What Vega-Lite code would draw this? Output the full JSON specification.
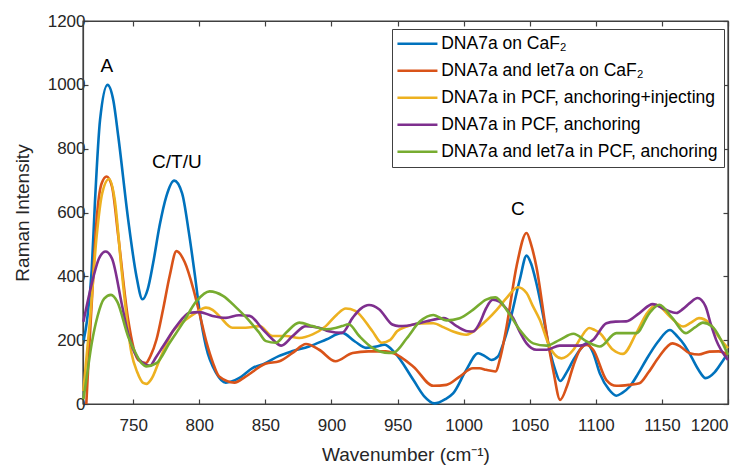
{
  "$schema": "https://vega.github.io/schema/vega-lite/v6.json",
  "width": 645,
  "height": 383,
  "autosize": {"type": "none"},
  "padding": {"left": 83, "top": 21, "right": 23, "bottom": 62},
  "background": "white",
  "config": {
    "font": "Liberation Sans",
    "view": {"stroke": null},
    "axis": {
      "domain": true,
      "domainColor": "#404040",
      "domainWidth": 1.2,
      "ticks": true,
      "tickColor": "#404040",
      "tickWidth": 1.2,
      "labelColor": "#262626",
      "titleColor": "#262626",
      "labelFont": "Liberation Sans",
      "titleFont": "Liberation Sans",
      "labelFontSize": 17,
      "titleFontSize": 19,
      "titleFontWeight": "normal",
      "grid": false,
      "tickSize": -5,
      "zindex": 1,
      "format": "d"
    },
    "legend": {
      "labelFont": "Liberation Sans",
      "labelFontSize": 17.5,
      "labelColor": "#000000"
    }
  },
  "datasets": {
    "spectra": [
      {"wavenumber": 712.5, "intensity": 200, "sample": "DNA7a on CaF₂"},
      {"wavenumber": 715, "intensity": 260, "sample": "DNA7a on CaF₂"},
      {"wavenumber": 718.6, "intensity": 420, "sample": "DNA7a on CaF₂"},
      {"wavenumber": 721, "intensity": 629, "sample": "DNA7a on CaF₂"},
      {"wavenumber": 724.9, "intensity": 890, "sample": "DNA7a on CaF₂"},
      {"wavenumber": 730.6, "intensity": 1000, "sample": "DNA7a on CaF₂"},
      {"wavenumber": 735, "intensity": 950, "sample": "DNA7a on CaF₂"},
      {"wavenumber": 738.7, "intensity": 838, "sample": "DNA7a on CaF₂"},
      {"wavenumber": 746.2, "intensity": 577, "sample": "DNA7a on CaF₂"},
      {"wavenumber": 752.5, "intensity": 399, "sample": "DNA7a on CaF₂"},
      {"wavenumber": 757, "intensity": 328, "sample": "DNA7a on CaF₂"},
      {"wavenumber": 761, "intensity": 360, "sample": "DNA7a on CaF₂"},
      {"wavenumber": 765, "intensity": 440, "sample": "DNA7a on CaF₂"},
      {"wavenumber": 770, "intensity": 560, "sample": "DNA7a on CaF₂"},
      {"wavenumber": 775, "intensity": 650, "sample": "DNA7a on CaF₂"},
      {"wavenumber": 781, "intensity": 700, "sample": "DNA7a on CaF₂"},
      {"wavenumber": 787, "intensity": 660, "sample": "DNA7a on CaF₂"},
      {"wavenumber": 792, "intensity": 540, "sample": "DNA7a on CaF₂"},
      {"wavenumber": 796.7, "intensity": 402, "sample": "DNA7a on CaF₂"},
      {"wavenumber": 800, "intensity": 297, "sample": "DNA7a on CaF₂"},
      {"wavenumber": 805, "intensity": 181, "sample": "DNA7a on CaF₂"},
      {"wavenumber": 812.8, "intensity": 97, "sample": "DNA7a on CaF₂"},
      {"wavenumber": 820, "intensity": 67, "sample": "DNA7a on CaF₂"},
      {"wavenumber": 830, "intensity": 81, "sample": "DNA7a on CaF₂"},
      {"wavenumber": 840.5, "intensity": 113, "sample": "DNA7a on CaF₂"},
      {"wavenumber": 850, "intensity": 128, "sample": "DNA7a on CaF₂"},
      {"wavenumber": 860, "intensity": 150, "sample": "DNA7a on CaF₂"},
      {"wavenumber": 870, "intensity": 165, "sample": "DNA7a on CaF₂"},
      {"wavenumber": 883, "intensity": 180, "sample": "DNA7a on CaF₂"},
      {"wavenumber": 896, "intensity": 202, "sample": "DNA7a on CaF₂"},
      {"wavenumber": 908, "intensity": 223, "sample": "DNA7a on CaF₂"},
      {"wavenumber": 918, "intensity": 195, "sample": "DNA7a on CaF₂"},
      {"wavenumber": 926, "intensity": 176, "sample": "DNA7a on CaF₂"},
      {"wavenumber": 934, "intensity": 180, "sample": "DNA7a on CaF₂"},
      {"wavenumber": 940, "intensity": 186, "sample": "DNA7a on CaF₂"},
      {"wavenumber": 948, "intensity": 160, "sample": "DNA7a on CaF₂"},
      {"wavenumber": 962, "intensity": 75, "sample": "DNA7a on CaF₂"},
      {"wavenumber": 970, "intensity": 25, "sample": "DNA7a on CaF₂"},
      {"wavenumber": 978, "intensity": 2, "sample": "DNA7a on CaF₂"},
      {"wavenumber": 986, "intensity": 15, "sample": "DNA7a on CaF₂"},
      {"wavenumber": 992, "intensity": 33, "sample": "DNA7a on CaF₂"},
      {"wavenumber": 1002, "intensity": 107, "sample": "DNA7a on CaF₂"},
      {"wavenumber": 1011, "intensity": 159, "sample": "DNA7a on CaF₂"},
      {"wavenumber": 1016, "intensity": 150, "sample": "DNA7a on CaF₂"},
      {"wavenumber": 1021, "intensity": 138, "sample": "DNA7a on CaF₂"},
      {"wavenumber": 1026, "intensity": 149, "sample": "DNA7a on CaF₂"},
      {"wavenumber": 1030, "intensity": 190, "sample": "DNA7a on CaF₂"},
      {"wavenumber": 1034, "intensity": 243, "sample": "DNA7a on CaF₂"},
      {"wavenumber": 1042.5, "intensity": 390, "sample": "DNA7a on CaF₂"},
      {"wavenumber": 1047.6, "intensity": 465, "sample": "DNA7a on CaF₂"},
      {"wavenumber": 1051, "intensity": 440, "sample": "DNA7a on CaF₂"},
      {"wavenumber": 1055, "intensity": 379, "sample": "DNA7a on CaF₂"},
      {"wavenumber": 1060, "intensity": 280, "sample": "DNA7a on CaF₂"},
      {"wavenumber": 1064, "intensity": 190, "sample": "DNA7a on CaF₂"},
      {"wavenumber": 1069, "intensity": 110, "sample": "DNA7a on CaF₂"},
      {"wavenumber": 1073, "intensity": 72, "sample": "DNA7a on CaF₂"},
      {"wavenumber": 1078, "intensity": 100, "sample": "DNA7a on CaF₂"},
      {"wavenumber": 1083, "intensity": 138, "sample": "DNA7a on CaF₂"},
      {"wavenumber": 1088, "intensity": 170, "sample": "DNA7a on CaF₂"},
      {"wavenumber": 1093, "intensity": 190, "sample": "DNA7a on CaF₂"},
      {"wavenumber": 1098, "intensity": 160, "sample": "DNA7a on CaF₂"},
      {"wavenumber": 1103, "intensity": 96, "sample": "DNA7a on CaF₂"},
      {"wavenumber": 1110, "intensity": 45, "sample": "DNA7a on CaF₂"},
      {"wavenumber": 1115.5, "intensity": 26, "sample": "DNA7a on CaF₂"},
      {"wavenumber": 1120, "intensity": 35, "sample": "DNA7a on CaF₂"},
      {"wavenumber": 1125.5, "intensity": 54, "sample": "DNA7a on CaF₂"},
      {"wavenumber": 1132, "intensity": 95, "sample": "DNA7a on CaF₂"},
      {"wavenumber": 1138, "intensity": 138, "sample": "DNA7a on CaF₂"},
      {"wavenumber": 1147, "intensity": 195, "sample": "DNA7a on CaF₂"},
      {"wavenumber": 1156, "intensity": 232, "sample": "DNA7a on CaF₂"},
      {"wavenumber": 1162, "intensity": 210, "sample": "DNA7a on CaF₂"},
      {"wavenumber": 1167, "intensity": 185, "sample": "DNA7a on CaF₂"},
      {"wavenumber": 1172, "intensity": 150, "sample": "DNA7a on CaF₂"},
      {"wavenumber": 1178, "intensity": 105, "sample": "DNA7a on CaF₂"},
      {"wavenumber": 1183, "intensity": 81, "sample": "DNA7a on CaF₂"},
      {"wavenumber": 1190, "intensity": 100, "sample": "DNA7a on CaF₂"},
      {"wavenumber": 1196, "intensity": 135, "sample": "DNA7a on CaF₂"},
      {"wavenumber": 1200, "intensity": 160, "sample": "DNA7a on CaF₂"},

      {"wavenumber": 714.5, "intensity": 0, "sample": "DNA7a and let7a on CaF₂"},
      {"wavenumber": 716.5, "intensity": 160, "sample": "DNA7a and let7a on CaF₂"},
      {"wavenumber": 718.6, "intensity": 316, "sample": "DNA7a and let7a on CaF₂"},
      {"wavenumber": 722.3, "intensity": 577, "sample": "DNA7a and let7a on CaF₂"},
      {"wavenumber": 726, "intensity": 690, "sample": "DNA7a and let7a on CaF₂"},
      {"wavenumber": 729.9, "intensity": 713, "sample": "DNA7a and let7a on CaF₂"},
      {"wavenumber": 734, "intensity": 680, "sample": "DNA7a and let7a on CaF₂"},
      {"wavenumber": 738.7, "intensity": 525, "sample": "DNA7a and let7a on CaF₂"},
      {"wavenumber": 746.2, "intensity": 263, "sample": "DNA7a and let7a on CaF₂"},
      {"wavenumber": 753.8, "intensity": 138, "sample": "DNA7a and let7a on CaF₂"},
      {"wavenumber": 759.5, "intensity": 128, "sample": "DNA7a and let7a on CaF₂"},
      {"wavenumber": 763, "intensity": 150, "sample": "DNA7a and let7a on CaF₂"},
      {"wavenumber": 767.6, "intensity": 202, "sample": "DNA7a and let7a on CaF₂"},
      {"wavenumber": 772.6, "intensity": 297, "sample": "DNA7a and let7a on CaF₂"},
      {"wavenumber": 777.6, "intensity": 402, "sample": "DNA7a and let7a on CaF₂"},
      {"wavenumber": 782.7, "intensity": 479, "sample": "DNA7a and let7a on CaF₂"},
      {"wavenumber": 789, "intensity": 444, "sample": "DNA7a and let7a on CaF₂"},
      {"wavenumber": 795.5, "intensity": 360, "sample": "DNA7a and let7a on CaF₂"},
      {"wavenumber": 800, "intensity": 286, "sample": "DNA7a and let7a on CaF₂"},
      {"wavenumber": 805.5, "intensity": 192, "sample": "DNA7a and let7a on CaF₂"},
      {"wavenumber": 810.4, "intensity": 128, "sample": "DNA7a and let7a on CaF₂"},
      {"wavenumber": 815, "intensity": 86, "sample": "DNA7a and let7a on CaF₂"},
      {"wavenumber": 826.6, "intensity": 67, "sample": "DNA7a and let7a on CaF₂"},
      {"wavenumber": 835, "intensity": 86, "sample": "DNA7a and let7a on CaF₂"},
      {"wavenumber": 850, "intensity": 126, "sample": "DNA7a and let7a on CaF₂"},
      {"wavenumber": 860.6, "intensity": 134, "sample": "DNA7a and let7a on CaF₂"},
      {"wavenumber": 870.6, "intensity": 160, "sample": "DNA7a and let7a on CaF₂"},
      {"wavenumber": 880.7, "intensity": 188, "sample": "DNA7a and let7a on CaF₂"},
      {"wavenumber": 890.7, "intensity": 170, "sample": "DNA7a and let7a on CaF₂"},
      {"wavenumber": 903, "intensity": 134, "sample": "DNA7a and let7a on CaF₂"},
      {"wavenumber": 916, "intensity": 160, "sample": "DNA7a and let7a on CaF₂"},
      {"wavenumber": 928, "intensity": 165, "sample": "DNA7a and let7a on CaF₂"},
      {"wavenumber": 941, "intensity": 165, "sample": "DNA7a and let7a on CaF₂"},
      {"wavenumber": 947, "intensity": 159, "sample": "DNA7a and let7a on CaF₂"},
      {"wavenumber": 962, "intensity": 117, "sample": "DNA7a and let7a on CaF₂"},
      {"wavenumber": 977, "intensity": 57, "sample": "DNA7a and let7a on CaF₂"},
      {"wavenumber": 987, "intensity": 60, "sample": "DNA7a and let7a on CaF₂"},
      {"wavenumber": 997, "intensity": 86, "sample": "DNA7a and let7a on CaF₂"},
      {"wavenumber": 1007, "intensity": 112, "sample": "DNA7a and let7a on CaF₂"},
      {"wavenumber": 1012, "intensity": 112, "sample": "DNA7a and let7a on CaF₂"},
      {"wavenumber": 1017, "intensity": 107, "sample": "DNA7a and let7a on CaF₂"},
      {"wavenumber": 1024, "intensity": 102, "sample": "DNA7a and let7a on CaF₂"},
      {"wavenumber": 1028, "intensity": 150, "sample": "DNA7a and let7a on CaF₂"},
      {"wavenumber": 1032.5, "intensity": 243, "sample": "DNA7a and let7a on CaF₂"},
      {"wavenumber": 1040, "intensity": 431, "sample": "DNA7a and let7a on CaF₂"},
      {"wavenumber": 1047.6, "intensity": 536, "sample": "DNA7a and let7a on CaF₂"},
      {"wavenumber": 1051, "intensity": 500, "sample": "DNA7a and let7a on CaF₂"},
      {"wavenumber": 1055, "intensity": 431, "sample": "DNA7a and let7a on CaF₂"},
      {"wavenumber": 1062.7, "intensity": 222, "sample": "DNA7a and let7a on CaF₂"},
      {"wavenumber": 1068, "intensity": 100, "sample": "DNA7a and let7a on CaF₂"},
      {"wavenumber": 1073, "intensity": 13, "sample": "DNA7a and let7a on CaF₂"},
      {"wavenumber": 1078, "intensity": 54, "sample": "DNA7a and let7a on CaF₂"},
      {"wavenumber": 1083, "intensity": 120, "sample": "DNA7a and let7a on CaF₂"},
      {"wavenumber": 1088, "intensity": 170, "sample": "DNA7a and let7a on CaF₂"},
      {"wavenumber": 1093, "intensity": 185, "sample": "DNA7a and let7a on CaF₂"},
      {"wavenumber": 1098, "intensity": 170, "sample": "DNA7a and let7a on CaF₂"},
      {"wavenumber": 1108, "intensity": 75, "sample": "DNA7a and let7a on CaF₂"},
      {"wavenumber": 1115.5, "intensity": 57, "sample": "DNA7a and let7a on CaF₂"},
      {"wavenumber": 1125, "intensity": 60, "sample": "DNA7a and let7a on CaF₂"},
      {"wavenumber": 1133, "intensity": 65, "sample": "DNA7a and let7a on CaF₂"},
      {"wavenumber": 1140, "intensity": 100, "sample": "DNA7a and let7a on CaF₂"},
      {"wavenumber": 1148, "intensity": 149, "sample": "DNA7a and let7a on CaF₂"},
      {"wavenumber": 1158, "intensity": 190, "sample": "DNA7a and let7a on CaF₂"},
      {"wavenumber": 1164, "intensity": 180, "sample": "DNA7a and let7a on CaF₂"},
      {"wavenumber": 1171, "intensity": 159, "sample": "DNA7a and let7a on CaF₂"},
      {"wavenumber": 1178, "intensity": 155, "sample": "DNA7a and let7a on CaF₂"},
      {"wavenumber": 1186, "intensity": 164, "sample": "DNA7a and let7a on CaF₂"},
      {"wavenumber": 1193, "intensity": 165, "sample": "DNA7a and let7a on CaF₂"},
      {"wavenumber": 1200, "intensity": 154, "sample": "DNA7a and let7a on CaF₂"},

      {"wavenumber": 712.3, "intensity": 40, "sample": "DNA7a in PCF, anchoring+injecting"},
      {"wavenumber": 714.5, "intensity": 140, "sample": "DNA7a in PCF, anchoring+injecting"},
      {"wavenumber": 717.3, "intensity": 263, "sample": "DNA7a in PCF, anchoring+injecting"},
      {"wavenumber": 722.3, "intensity": 525, "sample": "DNA7a in PCF, anchoring+injecting"},
      {"wavenumber": 726.5, "intensity": 660, "sample": "DNA7a in PCF, anchoring+injecting"},
      {"wavenumber": 731.7, "intensity": 705, "sample": "DNA7a in PCF, anchoring+injecting"},
      {"wavenumber": 736, "intensity": 640, "sample": "DNA7a in PCF, anchoring+injecting"},
      {"wavenumber": 741.2, "intensity": 420, "sample": "DNA7a in PCF, anchoring+injecting"},
      {"wavenumber": 748.7, "intensity": 159, "sample": "DNA7a in PCF, anchoring+injecting"},
      {"wavenumber": 753, "intensity": 100, "sample": "DNA7a in PCF, anchoring+injecting"},
      {"wavenumber": 757.5, "intensity": 66, "sample": "DNA7a in PCF, anchoring+injecting"},
      {"wavenumber": 760, "intensity": 63, "sample": "DNA7a in PCF, anchoring+injecting"},
      {"wavenumber": 764, "intensity": 80, "sample": "DNA7a in PCF, anchoring+injecting"},
      {"wavenumber": 770, "intensity": 139, "sample": "DNA7a in PCF, anchoring+injecting"},
      {"wavenumber": 780, "intensity": 228, "sample": "DNA7a in PCF, anchoring+injecting"},
      {"wavenumber": 790, "intensity": 265, "sample": "DNA7a in PCF, anchoring+injecting"},
      {"wavenumber": 797, "intensity": 285, "sample": "DNA7a in PCF, anchoring+injecting"},
      {"wavenumber": 805, "intensity": 302, "sample": "DNA7a in PCF, anchoring+injecting"},
      {"wavenumber": 810, "intensity": 295, "sample": "DNA7a in PCF, anchoring+injecting"},
      {"wavenumber": 815, "intensity": 276, "sample": "DNA7a in PCF, anchoring+injecting"},
      {"wavenumber": 825, "intensity": 239, "sample": "DNA7a in PCF, anchoring+injecting"},
      {"wavenumber": 835, "intensity": 239, "sample": "DNA7a in PCF, anchoring+injecting"},
      {"wavenumber": 845.5, "intensity": 244, "sample": "DNA7a in PCF, anchoring+injecting"},
      {"wavenumber": 855.5, "intensity": 213, "sample": "DNA7a in PCF, anchoring+injecting"},
      {"wavenumber": 865.6, "intensity": 213, "sample": "DNA7a in PCF, anchoring+injecting"},
      {"wavenumber": 875.6, "intensity": 207, "sample": "DNA7a in PCF, anchoring+injecting"},
      {"wavenumber": 885.7, "intensity": 218, "sample": "DNA7a in PCF, anchoring+injecting"},
      {"wavenumber": 895.7, "intensity": 244, "sample": "DNA7a in PCF, anchoring+injecting"},
      {"wavenumber": 904, "intensity": 280, "sample": "DNA7a in PCF, anchoring+injecting"},
      {"wavenumber": 910.8, "intensity": 299, "sample": "DNA7a in PCF, anchoring+injecting"},
      {"wavenumber": 918, "intensity": 292, "sample": "DNA7a in PCF, anchoring+injecting"},
      {"wavenumber": 931, "intensity": 228, "sample": "DNA7a in PCF, anchoring+injecting"},
      {"wavenumber": 938, "intensity": 192, "sample": "DNA7a in PCF, anchoring+injecting"},
      {"wavenumber": 944.5, "intensity": 201, "sample": "DNA7a in PCF, anchoring+injecting"},
      {"wavenumber": 949.6, "intensity": 228, "sample": "DNA7a in PCF, anchoring+injecting"},
      {"wavenumber": 957, "intensity": 243, "sample": "DNA7a in PCF, anchoring+injecting"},
      {"wavenumber": 967, "intensity": 252, "sample": "DNA7a in PCF, anchoring+injecting"},
      {"wavenumber": 977, "intensity": 253, "sample": "DNA7a in PCF, anchoring+injecting"},
      {"wavenumber": 985, "intensity": 240, "sample": "DNA7a in PCF, anchoring+injecting"},
      {"wavenumber": 992, "intensity": 227, "sample": "DNA7a in PCF, anchoring+injecting"},
      {"wavenumber": 1002, "intensity": 217, "sample": "DNA7a in PCF, anchoring+injecting"},
      {"wavenumber": 1012, "intensity": 243, "sample": "DNA7a in PCF, anchoring+injecting"},
      {"wavenumber": 1025, "intensity": 295, "sample": "DNA7a in PCF, anchoring+injecting"},
      {"wavenumber": 1033, "intensity": 335, "sample": "DNA7a in PCF, anchoring+injecting"},
      {"wavenumber": 1041, "intensity": 366, "sample": "DNA7a in PCF, anchoring+injecting"},
      {"wavenumber": 1047.6, "intensity": 348, "sample": "DNA7a in PCF, anchoring+injecting"},
      {"wavenumber": 1052, "intensity": 310, "sample": "DNA7a in PCF, anchoring+injecting"},
      {"wavenumber": 1057.6, "intensity": 264, "sample": "DNA7a in PCF, anchoring+injecting"},
      {"wavenumber": 1065, "intensity": 180, "sample": "DNA7a in PCF, anchoring+injecting"},
      {"wavenumber": 1074, "intensity": 143, "sample": "DNA7a in PCF, anchoring+injecting"},
      {"wavenumber": 1083, "intensity": 170, "sample": "DNA7a in PCF, anchoring+injecting"},
      {"wavenumber": 1089, "intensity": 210, "sample": "DNA7a in PCF, anchoring+injecting"},
      {"wavenumber": 1095, "intensity": 238, "sample": "DNA7a in PCF, anchoring+injecting"},
      {"wavenumber": 1099, "intensity": 232, "sample": "DNA7a in PCF, anchoring+injecting"},
      {"wavenumber": 1103, "intensity": 222, "sample": "DNA7a in PCF, anchoring+injecting"},
      {"wavenumber": 1113, "intensity": 170, "sample": "DNA7a in PCF, anchoring+injecting"},
      {"wavenumber": 1120.5, "intensity": 157, "sample": "DNA7a in PCF, anchoring+injecting"},
      {"wavenumber": 1130.6, "intensity": 222, "sample": "DNA7a in PCF, anchoring+injecting"},
      {"wavenumber": 1138, "intensity": 280, "sample": "DNA7a in PCF, anchoring+injecting"},
      {"wavenumber": 1145.7, "intensity": 311, "sample": "DNA7a in PCF, anchoring+injecting"},
      {"wavenumber": 1156, "intensity": 274, "sample": "DNA7a in PCF, anchoring+injecting"},
      {"wavenumber": 1166, "intensity": 243, "sample": "DNA7a in PCF, anchoring+injecting"},
      {"wavenumber": 1172, "intensity": 255, "sample": "DNA7a in PCF, anchoring+injecting"},
      {"wavenumber": 1178, "intensity": 269, "sample": "DNA7a in PCF, anchoring+injecting"},
      {"wavenumber": 1186, "intensity": 253, "sample": "DNA7a in PCF, anchoring+injecting"},
      {"wavenumber": 1193, "intensity": 210, "sample": "DNA7a in PCF, anchoring+injecting"},
      {"wavenumber": 1200, "intensity": 175, "sample": "DNA7a in PCF, anchoring+injecting"},

      {"wavenumber": 712.3, "intensity": 258, "sample": "DNA7a in PCF, anchoring"},
      {"wavenumber": 716, "intensity": 330, "sample": "DNA7a in PCF, anchoring"},
      {"wavenumber": 720, "intensity": 400, "sample": "DNA7a in PCF, anchoring"},
      {"wavenumber": 724, "intensity": 455, "sample": "DNA7a in PCF, anchoring"},
      {"wavenumber": 729.1, "intensity": 478, "sample": "DNA7a in PCF, anchoring"},
      {"wavenumber": 734, "intensity": 455, "sample": "DNA7a in PCF, anchoring"},
      {"wavenumber": 741.2, "intensity": 316, "sample": "DNA7a in PCF, anchoring"},
      {"wavenumber": 745, "intensity": 240, "sample": "DNA7a in PCF, anchoring"},
      {"wavenumber": 751.2, "intensity": 159, "sample": "DNA7a in PCF, anchoring"},
      {"wavenumber": 757.5, "intensity": 128, "sample": "DNA7a in PCF, anchoring"},
      {"wavenumber": 762.6, "intensity": 120, "sample": "DNA7a in PCF, anchoring"},
      {"wavenumber": 767, "intensity": 145, "sample": "DNA7a in PCF, anchoring"},
      {"wavenumber": 772.6, "intensity": 181, "sample": "DNA7a in PCF, anchoring"},
      {"wavenumber": 782.7, "intensity": 244, "sample": "DNA7a in PCF, anchoring"},
      {"wavenumber": 792.7, "intensity": 286, "sample": "DNA7a in PCF, anchoring"},
      {"wavenumber": 800, "intensity": 288, "sample": "DNA7a in PCF, anchoring"},
      {"wavenumber": 810, "intensity": 276, "sample": "DNA7a in PCF, anchoring"},
      {"wavenumber": 820, "intensity": 270, "sample": "DNA7a in PCF, anchoring"},
      {"wavenumber": 830, "intensity": 278, "sample": "DNA7a in PCF, anchoring"},
      {"wavenumber": 838, "intensity": 276, "sample": "DNA7a in PCF, anchoring"},
      {"wavenumber": 848, "intensity": 234, "sample": "DNA7a in PCF, anchoring"},
      {"wavenumber": 855.5, "intensity": 202, "sample": "DNA7a in PCF, anchoring"},
      {"wavenumber": 862, "intensity": 183, "sample": "DNA7a in PCF, anchoring"},
      {"wavenumber": 870.6, "intensity": 213, "sample": "DNA7a in PCF, anchoring"},
      {"wavenumber": 880.7, "intensity": 244, "sample": "DNA7a in PCF, anchoring"},
      {"wavenumber": 890.7, "intensity": 239, "sample": "DNA7a in PCF, anchoring"},
      {"wavenumber": 898, "intensity": 228, "sample": "DNA7a in PCF, anchoring"},
      {"wavenumber": 908, "intensity": 223, "sample": "DNA7a in PCF, anchoring"},
      {"wavenumber": 916, "intensity": 270, "sample": "DNA7a in PCF, anchoring"},
      {"wavenumber": 922, "intensity": 298, "sample": "DNA7a in PCF, anchoring"},
      {"wavenumber": 928.4, "intensity": 310, "sample": "DNA7a in PCF, anchoring"},
      {"wavenumber": 936, "intensity": 297, "sample": "DNA7a in PCF, anchoring"},
      {"wavenumber": 946, "intensity": 249, "sample": "DNA7a in PCF, anchoring"},
      {"wavenumber": 951, "intensity": 244, "sample": "DNA7a in PCF, anchoring"},
      {"wavenumber": 957, "intensity": 245, "sample": "DNA7a in PCF, anchoring"},
      {"wavenumber": 965, "intensity": 252, "sample": "DNA7a in PCF, anchoring"},
      {"wavenumber": 972, "intensity": 259, "sample": "DNA7a in PCF, anchoring"},
      {"wavenumber": 985, "intensity": 269, "sample": "DNA7a in PCF, anchoring"},
      {"wavenumber": 995, "intensity": 243, "sample": "DNA7a in PCF, anchoring"},
      {"wavenumber": 1003, "intensity": 228, "sample": "DNA7a in PCF, anchoring"},
      {"wavenumber": 1007, "intensity": 227, "sample": "DNA7a in PCF, anchoring"},
      {"wavenumber": 1012, "intensity": 253, "sample": "DNA7a in PCF, anchoring"},
      {"wavenumber": 1017, "intensity": 300, "sample": "DNA7a in PCF, anchoring"},
      {"wavenumber": 1022, "intensity": 327, "sample": "DNA7a in PCF, anchoring"},
      {"wavenumber": 1027, "intensity": 321, "sample": "DNA7a in PCF, anchoring"},
      {"wavenumber": 1032, "intensity": 300, "sample": "DNA7a in PCF, anchoring"},
      {"wavenumber": 1037.5, "intensity": 269, "sample": "DNA7a in PCF, anchoring"},
      {"wavenumber": 1042, "intensity": 230, "sample": "DNA7a in PCF, anchoring"},
      {"wavenumber": 1047.6, "intensity": 190, "sample": "DNA7a in PCF, anchoring"},
      {"wavenumber": 1055, "intensity": 170, "sample": "DNA7a in PCF, anchoring"},
      {"wavenumber": 1062.7, "intensity": 170, "sample": "DNA7a in PCF, anchoring"},
      {"wavenumber": 1072.7, "intensity": 183, "sample": "DNA7a in PCF, anchoring"},
      {"wavenumber": 1088, "intensity": 183, "sample": "DNA7a in PCF, anchoring"},
      {"wavenumber": 1098, "intensity": 201, "sample": "DNA7a in PCF, anchoring"},
      {"wavenumber": 1108, "intensity": 253, "sample": "DNA7a in PCF, anchoring"},
      {"wavenumber": 1115, "intensity": 258, "sample": "DNA7a in PCF, anchoring"},
      {"wavenumber": 1123, "intensity": 259, "sample": "DNA7a in PCF, anchoring"},
      {"wavenumber": 1133, "intensity": 285, "sample": "DNA7a in PCF, anchoring"},
      {"wavenumber": 1143, "intensity": 313, "sample": "DNA7a in PCF, anchoring"},
      {"wavenumber": 1153, "intensity": 295, "sample": "DNA7a in PCF, anchoring"},
      {"wavenumber": 1161, "intensity": 285, "sample": "DNA7a in PCF, anchoring"},
      {"wavenumber": 1166, "intensity": 298, "sample": "DNA7a in PCF, anchoring"},
      {"wavenumber": 1171, "intensity": 316, "sample": "DNA7a in PCF, anchoring"},
      {"wavenumber": 1177, "intensity": 332, "sample": "DNA7a in PCF, anchoring"},
      {"wavenumber": 1183, "intensity": 306, "sample": "DNA7a in PCF, anchoring"},
      {"wavenumber": 1187, "intensity": 250, "sample": "DNA7a in PCF, anchoring"},
      {"wavenumber": 1191, "intensity": 201, "sample": "DNA7a in PCF, anchoring"},
      {"wavenumber": 1200, "intensity": 138, "sample": "DNA7a in PCF, anchoring"},

      {"wavenumber": 712.3, "intensity": 15, "sample": "DNA7a and let7a in PCF, anchoring"},
      {"wavenumber": 715, "intensity": 90, "sample": "DNA7a and let7a in PCF, anchoring"},
      {"wavenumber": 718.6, "intensity": 190, "sample": "DNA7a and let7a in PCF, anchoring"},
      {"wavenumber": 723, "intensity": 275, "sample": "DNA7a and let7a in PCF, anchoring"},
      {"wavenumber": 728, "intensity": 330, "sample": "DNA7a and let7a in PCF, anchoring"},
      {"wavenumber": 733.2, "intensity": 342, "sample": "DNA7a and let7a in PCF, anchoring"},
      {"wavenumber": 738, "intensity": 320, "sample": "DNA7a and let7a in PCF, anchoring"},
      {"wavenumber": 746.2, "intensity": 211, "sample": "DNA7a and let7a in PCF, anchoring"},
      {"wavenumber": 750, "intensity": 175, "sample": "DNA7a and let7a in PCF, anchoring"},
      {"wavenumber": 756.3, "intensity": 128, "sample": "DNA7a and let7a in PCF, anchoring"},
      {"wavenumber": 760, "intensity": 118, "sample": "DNA7a and let7a in PCF, anchoring"},
      {"wavenumber": 767.6, "intensity": 128, "sample": "DNA7a and let7a in PCF, anchoring"},
      {"wavenumber": 777.6, "intensity": 192, "sample": "DNA7a and let7a in PCF, anchoring"},
      {"wavenumber": 787.7, "intensity": 255, "sample": "DNA7a and let7a in PCF, anchoring"},
      {"wavenumber": 798, "intensity": 323, "sample": "DNA7a and let7a in PCF, anchoring"},
      {"wavenumber": 807.8, "intensity": 353, "sample": "DNA7a and let7a in PCF, anchoring"},
      {"wavenumber": 817.9, "intensity": 339, "sample": "DNA7a and let7a in PCF, anchoring"},
      {"wavenumber": 828, "intensity": 302, "sample": "DNA7a and let7a in PCF, anchoring"},
      {"wavenumber": 838, "intensity": 260, "sample": "DNA7a and let7a in PCF, anchoring"},
      {"wavenumber": 845, "intensity": 225, "sample": "DNA7a and let7a in PCF, anchoring"},
      {"wavenumber": 850.5, "intensity": 197, "sample": "DNA7a and let7a in PCF, anchoring"},
      {"wavenumber": 858, "intensity": 192, "sample": "DNA7a and let7a in PCF, anchoring"},
      {"wavenumber": 865.6, "intensity": 223, "sample": "DNA7a and let7a in PCF, anchoring"},
      {"wavenumber": 875.6, "intensity": 255, "sample": "DNA7a and let7a in PCF, anchoring"},
      {"wavenumber": 885.7, "intensity": 244, "sample": "DNA7a and let7a in PCF, anchoring"},
      {"wavenumber": 895.7, "intensity": 234, "sample": "DNA7a and let7a in PCF, anchoring"},
      {"wavenumber": 903, "intensity": 238, "sample": "DNA7a and let7a in PCF, anchoring"},
      {"wavenumber": 908, "intensity": 244, "sample": "DNA7a and let7a in PCF, anchoring"},
      {"wavenumber": 913, "intensity": 250, "sample": "DNA7a and let7a in PCF, anchoring"},
      {"wavenumber": 921, "intensity": 213, "sample": "DNA7a and let7a in PCF, anchoring"},
      {"wavenumber": 931, "intensity": 176, "sample": "DNA7a and let7a in PCF, anchoring"},
      {"wavenumber": 943.5, "intensity": 160, "sample": "DNA7a and let7a in PCF, anchoring"},
      {"wavenumber": 947, "intensity": 161, "sample": "DNA7a and let7a in PCF, anchoring"},
      {"wavenumber": 957, "intensity": 206, "sample": "DNA7a and let7a in PCF, anchoring"},
      {"wavenumber": 967, "intensity": 259, "sample": "DNA7a and let7a in PCF, anchoring"},
      {"wavenumber": 977, "intensity": 279, "sample": "DNA7a and let7a in PCF, anchoring"},
      {"wavenumber": 987, "intensity": 262, "sample": "DNA7a and let7a in PCF, anchoring"},
      {"wavenumber": 997, "intensity": 269, "sample": "DNA7a and let7a in PCF, anchoring"},
      {"wavenumber": 1007, "intensity": 295, "sample": "DNA7a and let7a in PCF, anchoring"},
      {"wavenumber": 1017, "intensity": 327, "sample": "DNA7a and let7a in PCF, anchoring"},
      {"wavenumber": 1024, "intensity": 334, "sample": "DNA7a and let7a in PCF, anchoring"},
      {"wavenumber": 1032.5, "intensity": 295, "sample": "DNA7a and let7a in PCF, anchoring"},
      {"wavenumber": 1042.5, "intensity": 232, "sample": "DNA7a and let7a in PCF, anchoring"},
      {"wavenumber": 1052.6, "intensity": 190, "sample": "DNA7a and let7a in PCF, anchoring"},
      {"wavenumber": 1062.7, "intensity": 183, "sample": "DNA7a and let7a in PCF, anchoring"},
      {"wavenumber": 1072.7, "intensity": 201, "sample": "DNA7a and let7a in PCF, anchoring"},
      {"wavenumber": 1083, "intensity": 220, "sample": "DNA7a and let7a in PCF, anchoring"},
      {"wavenumber": 1093, "intensity": 196, "sample": "DNA7a and let7a in PCF, anchoring"},
      {"wavenumber": 1103, "intensity": 180, "sample": "DNA7a and let7a in PCF, anchoring"},
      {"wavenumber": 1115.5, "intensity": 222, "sample": "DNA7a and let7a in PCF, anchoring"},
      {"wavenumber": 1122, "intensity": 222, "sample": "DNA7a and let7a in PCF, anchoring"},
      {"wavenumber": 1130.6, "intensity": 222, "sample": "DNA7a and let7a in PCF, anchoring"},
      {"wavenumber": 1140.6, "intensity": 285, "sample": "DNA7a and let7a in PCF, anchoring"},
      {"wavenumber": 1148, "intensity": 311, "sample": "DNA7a and let7a in PCF, anchoring"},
      {"wavenumber": 1158, "intensity": 269, "sample": "DNA7a and let7a in PCF, anchoring"},
      {"wavenumber": 1168, "intensity": 222, "sample": "DNA7a and let7a in PCF, anchoring"},
      {"wavenumber": 1175, "intensity": 240, "sample": "DNA7a and let7a in PCF, anchoring"},
      {"wavenumber": 1181, "intensity": 255, "sample": "DNA7a and let7a in PCF, anchoring"},
      {"wavenumber": 1188, "intensity": 243, "sample": "DNA7a and let7a in PCF, anchoring"},
      {"wavenumber": 1200, "intensity": 154, "sample": "DNA7a and let7a in PCF, anchoring"}
    ],
    "peaks": [
      {"wavenumber": 730, "intensity": 1059, "band": "A"},
      {"wavenumber": 783, "intensity": 758, "band": "C/T/U"},
      {"wavenumber": 1041, "intensity": 611, "band": "C"}
    ],
    "frame": [
      {"x0": 712, "x1": 1200, "y0": 0, "y1": 1200}
    ]
  },
  "layer": [
    {
      "data": {"name": "frame"},
      "mark": {"type": "rect", "fill": "transparent", "stroke": "#404040", "strokeWidth": 1.2},
      "encoding": {
        "x": {
          "field": "x0",
          "type": "quantitative",
          "scale": {"domain": [712, 1200], "nice": false, "zero": false},
          "axis": {
            "title": "Wavenumber (cm⁻¹)",
            "values": [750, 800, 850, 900, 950, 1000, 1050, 1100, 1150, 1200],
            "labelPadding": 18,
            "titlePadding": 12
          }
        },
        "x2": {"field": "x1"},
        "y": {
          "field": "y0",
          "type": "quantitative",
          "scale": {"domain": [0, 1200], "nice": false},
          "axis": {
            "title": "Raman Intensity",
            "values": [0, 200, 400, 600, 800, 1000, 1200],
            "labelPadding": 3,
            "titlePadding": 15
          }
        },
        "y2": {"field": "y1"}
      }
    },
    {
      "data": {"name": "peaks"},
      "mark": {"type": "point", "opacity": 0},
      "encoding": {
        "x": {
          "field": "wavenumber",
          "type": "quantitative",
          "axis": {"orient": "top", "labels": false, "title": null, "values": [750, 800, 850, 900, 950, 1000, 1050, 1100, 1150, 1200]}
        },
        "y": {
          "field": "intensity",
          "type": "quantitative",
          "axis": {"orient": "right", "labels": false, "title": null, "values": [0, 200, 400, 600, 800, 1000, 1200]}
        }
      }
    },
    {
      "data": {"name": "spectra"},
      "mark": {"type": "line", "interpolate": "monotone", "strokeWidth": 2.6},
      "encoding": {
        "x": {"field": "wavenumber", "type": "quantitative", "axis": null},
        "y": {"field": "intensity", "type": "quantitative", "axis": null},
        "color": {
          "field": "sample",
          "type": "nominal",
          "sort": null,
          "scale": {
            "domain": [
              "DNA7a on CaF₂",
              "DNA7a and let7a on CaF₂",
              "DNA7a in PCF, anchoring+injecting",
              "DNA7a in PCF, anchoring",
              "DNA7a and let7a in PCF, anchoring"
            ],
            "range": ["#0072BD", "#D95319", "#EDB120", "#7E2F8E", "#77AC30"]
          },
          "legend": {
            "title": null,
            "orient": "none",
            "legendX": 309,
            "legendY": 8,
            "symbolType": "M-4,0H4",
            "symbolSize": 100,
            "symbolStrokeWidth": 2.6,
            "symbolOffset": 10.7,
            "labelLimit": 400,
            "labelOffset": 15,
            "rowPadding": 8,
            "padding": 6,
            "strokeColor": "#404040",
            "fillColor": "white"
          }
        }
      }
    },
    {
      "data": {"name": "peaks"},
      "mark": {"type": "text", "fontSize": 19, "font": "Liberation Sans", "color": "#000000", "baseline": "middle", "align": "center"},
      "encoding": {
        "x": {"field": "wavenumber", "type": "quantitative", "axis": null},
        "y": {"field": "intensity", "type": "quantitative", "axis": null},
        "text": {"field": "band"}
      }
    }
  ],
  "resolve": {"axis": {"x": "independent", "y": "independent"}}
}
